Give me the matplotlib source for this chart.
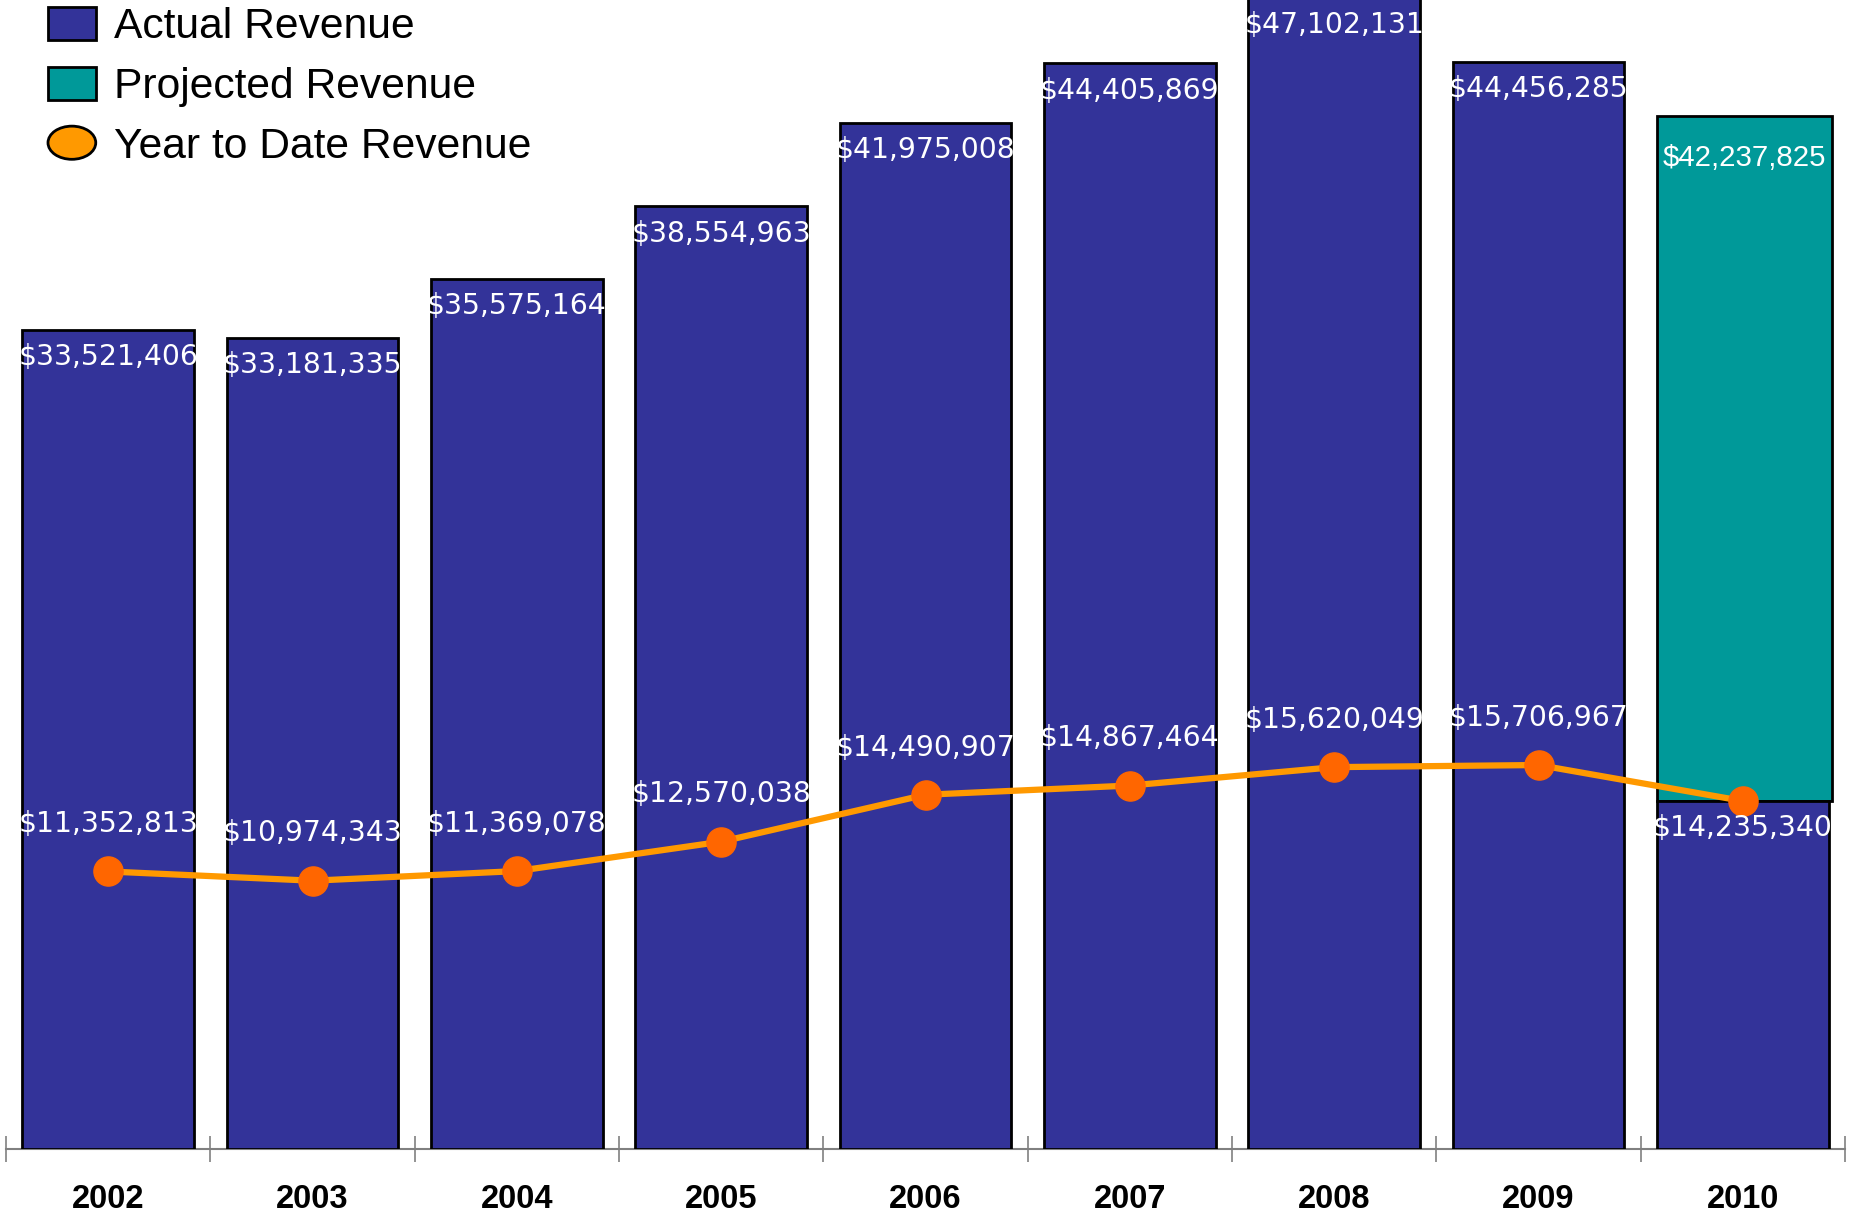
import matplotlib
matplotlib.use("Agg")
import matplotlib.pyplot as plt
from matplotlib.patches import Patch, Ellipse
from matplotlib.legend_handler import HandlerPatch
import numpy as np

years = ["2002", "2003", "2004", "2005", "2006", "2007", "2008", "2009", "2010"]
actual_revenue = [33521406, 33181335, 35575164, 38554963, 41975008, 44405869, 47102131, 44456285, 14235340]
projected_revenue_total = [None, None, None, None, None, None, None, None, 42237825]
ytd_revenue = [11352813, 10974343, 11369078, 12570038, 14490907, 14867464, 15620049, 15706967, 14235340]

NAVY = "#333399"
TEAL = "#009999"
LINE = "#FF9900"
MARK = "#FF6600"

fig = plt.figure(figsize=(18.51, 12.16), dpi=100)
ax = fig.add_axes([6/1851, 67/1216, (1845-6)/1851, 1149/1216])

x = np.arange(len(years))

# projected bar (2010) drawn behind, from ytd to projected total
for i, p in enumerate(projected_revenue_total):
    if p is not None:
        ax.bar(x[i] + 0.008, p - actual_revenue[i], bottom=actual_revenue[i], width=0.86,
               color=TEAL, edgecolor="black", linewidth=2, zorder=2)
        ax.annotate(f"${p:,}", (x[i] + 0.008, p), xytext=(0, -30), textcoords="offset points",
                    ha="center", va="center", color="white", fontsize=21.2,
                    family="Liberation Sans", zorder=6)

ax.bar(x, actual_revenue, width=0.84, color=NAVY, edgecolor="black", linewidth=2, zorder=3)
for i, v in enumerate(actual_revenue):
    ax.annotate(f"${v:,}", (x[i], v), xytext=(0, -19.5), textcoords="offset points",
                ha="center", va="center", color="white", fontsize=20.3,
                family="DejaVu Sans", zorder=6, annotation_clip=False)

ax.plot(x, ytd_revenue, color=LINE, linewidth=4.5, zorder=4)
ax.plot(x, ytd_revenue, linestyle="none", marker="o", markersize=21,
        markerfacecolor=MARK, markeredgecolor=MARK, zorder=5)
for i, v in enumerate(ytd_revenue[:-1]):
    ax.annotate(f"${v:,}", (x[i], v), xytext=(0, 34), textcoords="offset points",
                ha="center", va="center", color="white", fontsize=20.3,
                family="DejaVu Sans", zorder=6)

ax.set_xlim(-0.5, len(years) - 0.5)
ax.set_ylim(0, 47.0e6)
ax.set_yticks([])
ax.set_xticks(x)
ax.set_xticklabels(years, fontsize=23.5, fontweight="bold", family="Liberation Sans")
ax.set_xticks(np.arange(-0.5, len(years)), minor=True)
ax.tick_params(axis="x", which="major", length=0, pad=25.5)
ax.tick_params(axis="x", which="minor", direction="inout", length=19, width=1.2, color="#808080")
for s in ["top", "right", "left"]:
    ax.spines[s].set_visible(False)
ax.spines["bottom"].set_color("#808080")
ax.spines["bottom"].set_linewidth(1.5)
ax.spines["bottom"].set_zorder(1)


class HandlerEllipse(HandlerPatch):
    def create_artists(self, legend, orig_handle, xdescent, ydescent, width, height, fontsize, trans):
        center = (0.5 * width - xdescent, 0.5 * height - ydescent)
        p = Ellipse(xy=center, width=width, height=height)
        self.update_prop(p, orig_handle, legend)
        p.set_transform(trans)
        return [p]


h1 = Patch(facecolor=NAVY, edgecolor="black", linewidth=2, label="Actual Revenue")
h2 = Patch(facecolor=TEAL, edgecolor="black", linewidth=2, label="Projected Revenue")
h3 = Ellipse((0, 0), 1, 1, facecolor=LINE, edgecolor="black", linewidth=2, label="Year to Date Revenue")
leg = fig.legend(handles=[h1, h2, h3], loc="upper left", bbox_to_anchor=(48/1851, 1 - 7/1216),
                 frameon=False, prop={"family": "Liberation Sans", "size": 30.7},
                 handlelength=1.12, handleheight=0.82, handletextpad=0.42, labelspacing=0.45,
                 borderaxespad=0, borderpad=0,
                 handler_map={Ellipse: HandlerEllipse()})

fig.savefig("out.png", dpi=100)
